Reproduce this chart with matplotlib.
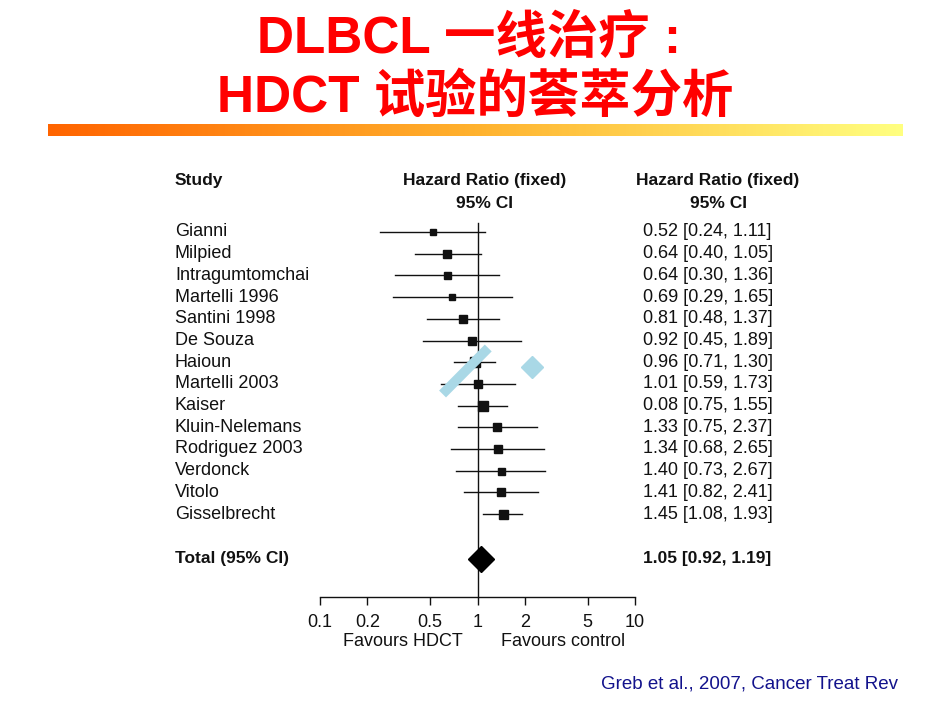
import numpy as np
import matplotlib
matplotlib.use("Agg")
import matplotlib.pyplot as plt
from matplotlib.colors import LinearSegmentedColormap

# Datos del forest plot
estudios = ["Gianni", "Milpied", "Intragumtomchai", "Martelli 1996", "Santini 1998",
            "De Souza", "Haioun", "Martelli 2003", "Kaiser", "Kluin-Nelemans",
            "Rodriguez 2003", "Verdonck", "Vitolo", "Gisselbrecht"]
hr = [0.52, 0.64, 0.64, 0.69, 0.81, 0.92, 0.96, 1.01, 1.08, 1.33, 1.34, 1.40, 1.41, 1.45]
ci_bajo = [0.24, 0.40, 0.30, 0.29, 0.48, 0.45, 0.71, 0.59, 0.75, 0.75, 0.68, 0.73, 0.82, 1.08]
ci_alto = [1.11, 1.05, 1.36, 1.65, 1.37, 1.89, 1.30, 1.73, 1.55, 2.37, 2.65, 2.67, 2.41, 1.93]
# texto tal como aparece en la figura original (incluye la errata de Kaiser)
hr_texto = ["0.52 [0.24, 1.11]", "0.64 [0.40, 1.05]", "0.64 [0.30, 1.36]", "0.69 [0.29, 1.65]",
            "0.81 [0.48, 1.37]", "0.92 [0.45, 1.89]", "0.96 [0.71, 1.30]", "1.01 [0.59, 1.73]",
            "0.08 [0.75, 1.55]", "1.33 [0.75, 2.37]", "1.34 [0.68, 2.65]", "1.40 [0.73, 2.67]",
            "1.41 [0.82, 2.41]", "1.45 [1.08, 1.93]"]
peso = [6, 8, 7, 6, 8, 8, 10, 8, 10, 8, 8, 7, 8, 9]  # lado del cuadrado (px)

total_hr = 1.05
total_texto = "1.05 [0.92, 1.19]"

ticks = [0.1, 0.2, 0.5, 1, 2, 5, 10]
tick_labels = ["0.1", "0.2", "0.5", "1", "2", "5", "10"]

W, H = 950, 713
fig = plt.figure(figsize=(9.5, 7.13), dpi=100)
fig.patch.set_facecolor("white")

fuente = ["Liberation Sans", "DejaVu Sans"]
tinta = "#111111"

# Titulo
titulo_fuente = ["Liberation Sans", "Noto Sans CJK SC"]
fig.text(0.494, 1 - 39 / H, "DLBCL 一线治疗 :", ha="center", va="center",
         fontsize=37, fontweight="bold", color="#ff0000", family=titulo_fuente)
fig.text(0.5, 1 - 98 / H, "HDCT 试验的荟萃分析", ha="center", va="center",
         fontsize=37, fontweight="bold", color="#ff0000", family=titulo_fuente)

# Barra con degradado
ax_barra = fig.add_axes([48 / W, 1 - 136 / H, (903 - 48) / W, 12 / H])
cmap = LinearSegmentedColormap.from_list("naranja", ["#ff6400", "#ffb22e", "#ffff80"])
ax_barra.imshow(np.linspace(0, 1, 256).reshape(1, -1), aspect="auto", cmap=cmap)
ax_barra.axis("off")

# Ejes del forest plot
fila0, paso = 232, 21.7
def fila(px):
    return (px - fila0) / paso

x0, x1 = 320, 635
y_arriba, y_abajo = 160, 597
ax = fig.add_axes([x0 / W, 1 - y_abajo / H, (x1 - x0) / W, (y_abajo - y_arriba) / H])
ax.set_xscale("log")
ax.set_xlim(0.1, 10)
ax.set_ylim(fila(y_abajo), fila(y_arriba))
for s in ["top", "right", "left"]:
    ax.spines[s].set_visible(False)
ax.spines["bottom"].set_linewidth(1.0)
ax.spines["bottom"].set_color(tinta)
ax.set_yticks([])
ax.set_xticks(ticks)
ax.set_xticklabels(tick_labels, fontsize=13, family=fuente, color=tinta)
ax.minorticks_off()
ax.tick_params(axis="x", direction="out", length=6, width=1, color=tinta, pad=6)
ax.patch.set_alpha(0)

# Linea vertical en 1
ax.plot([1, 1], [fila(223), fila(y_abajo)], color=tinta, lw=1.0, clip_on=False)

filas = np.arange(len(estudios))
for i in filas:
    ax.plot([ci_bajo[i], ci_alto[i]], [i, i], color=tinta, lw=1.0)
    ax.plot(hr[i], i, marker="s", color=tinta, markersize=peso[i] * 0.72, linestyle="none")

# Total
y_total = fila(559)
ax.plot(total_hr, y_total, marker="D", color="black", markersize=13, linestyle="none")

# Marcas azules sobre la figura
ax.plot([0.60, 1.17], [fila(394), fila(348)], color="#a9d8e6", lw=7, solid_capstyle="butt",
        clip_on=False, zorder=5)
ax.plot(2.23, fila(367), marker="D", color="#a9d8e6", markersize=11, linestyle="none", zorder=5)

# Textos
tr = ax.get_yaxis_transform()
def ax_x(px):
    return (px - x0) / (x1 - x0)

ax.text(ax_x(175), fila(181), "Study", transform=tr, ha="left", va="center",
        fontsize=12.5, fontweight="bold", family=fuente, color=tinta)
for xc in [485, 718]:
    ax.text(ax_x(xc), fila(181), "Hazard Ratio (fixed)", transform=tr, ha="center", va="center",
            fontsize=12.5, fontweight="bold", family=fuente, color=tinta)
    ax.text(ax_x(xc), fila(203), "95% CI", transform=tr, ha="center", va="center",
            fontsize=12.5, fontweight="bold", family=fuente, color=tinta)

for i in filas:
    ax.text(ax_x(175), i, estudios[i], transform=tr, ha="left", va="center",
            fontsize=13, family=fuente, color=tinta)
    ax.text(ax_x(643), i, hr_texto[i], transform=tr, ha="left", va="center",
            fontsize=13, family=fuente, color=tinta)

ax.text(ax_x(175), y_total, "Total (95% CI)", transform=tr, ha="left", va="center",
        fontsize=12.5, fontweight="bold", family=fuente, color=tinta)
ax.text(ax_x(643), y_total, total_texto, transform=tr, ha="left", va="center",
        fontsize=12.5, fontweight="bold", family=fuente, color=tinta)

ax.text(ax_x(403), fila(641), "Favours HDCT", transform=tr, ha="center", va="center",
        fontsize=13, family=fuente, color=tinta)
ax.text(ax_x(563), fila(641), "Favours control", transform=tr, ha="center", va="center",
        fontsize=13, family=fuente, color=tinta)

# Cita
fig.text(898 / W, 1 - 684 / H, "Greb et al., 2007, Cancer Treat Rev", ha="right", va="center",
         fontsize=13.5, family=fuente, color="#12128c")

fig.savefig("out.png", dpi=100)
